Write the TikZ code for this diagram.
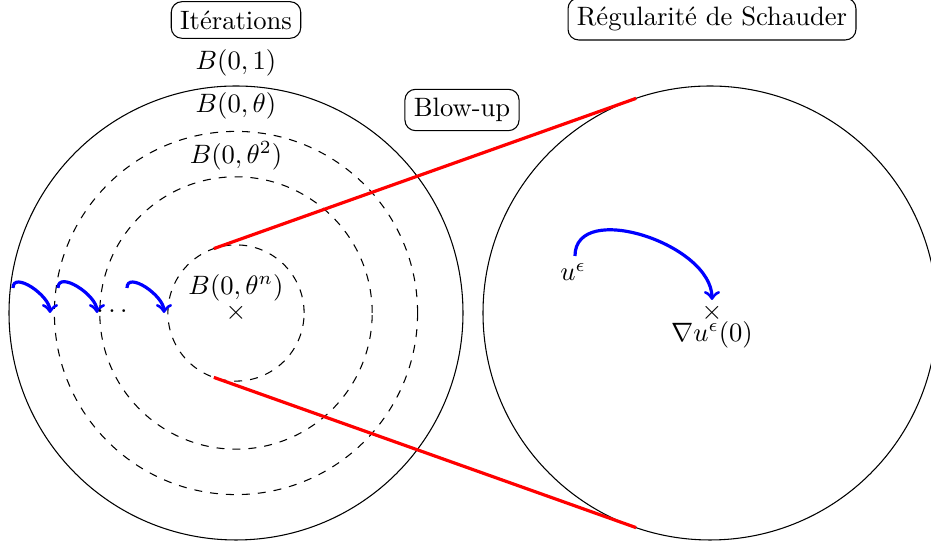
\documentclass[tikz,border=0pt]{standalone}
\usetikzlibrary{calc}
\begin{document}
\begin{tikzpicture}[x=0.013216cm,y=0.013216cm,
  lab/.style={draw,rounded corners},
  redline/.style={red,very thick},
  bluearr/.style={blue,very thick,->}]
\useasboundingbox (0,0) rectangle (931,545);
\coordinate (L) at (236,232);
\coordinate (R) at (710,232);
% circles
\draw (L) circle[radius=227];
\draw[dashed] (L) circle[radius=181.6];
\draw[dashed] (L) circle[radius=136.2];
\draw[dashed] (L) circle[radius=68.1];
\begin{scope}
\clip (0,0) rectangle (931,545);
\draw (R) circle[radius=227];
\end{scope}
% titles
\node[lab] (iter) at (236,525) {Itérations};
\node[lab] (blow) at (462,435) {Blow-up};
\node[lab] (schau) at (712,526) {Régularité de Schauder};
% ball labels
\node (b1) at (236,482) {$B(0,1)$};
\node (bt) at (236,439) {$B(0,\theta)$};
\node (bt2) at (236,389) {$B(0,\theta^2)$};
\node (btn) at (236,257) {$B(0,\theta^n)$};
\node (x0) at (236,232) {$\times$};
% red lines
\coordinate (a1) at ($(L)+(109:68.1)$);
\coordinate (a2) at ($(R)+(109:227)$);
\coordinate (c1) at ($(L)+(-109:68.1)$);
\coordinate (c2) at ($(R)+(-109:227)$);
\draw[redline] (a1) -- (a2);
\draw[redline] (c1) -- (c2);
% blue arrows left
\coordinate (s1) at (13,257);
\coordinate (e1) at (50,232);
\coordinate (s2) at (58,257);
\coordinate (e2) at (97,232);
\coordinate (s3) at (127,257);
\coordinate (e3) at (164,232);
\draw[bluearr] (s1) to[out=90,in=90] (e1);
\draw[bluearr] (s2) to[out=90,in=90] (e2);
\draw[bluearr] (s3) to[out=90,in=90] (e3);
\node[anchor=base] (dots) at (112,232) {$\dots$};
% right circle content
\node (u) at (573,273) {$u^\epsilon$};
\node (x1) at (712,232) {$\times$};
\node (grad) at (712,210) {$\nabla u^\epsilon(0)$};
\coordinate (s4) at (575,289);
\coordinate (e4) at (712,245);
\draw[bluearr] (s4) to[out=90,in=90] (e4);
\end{tikzpicture}
\end{document}
